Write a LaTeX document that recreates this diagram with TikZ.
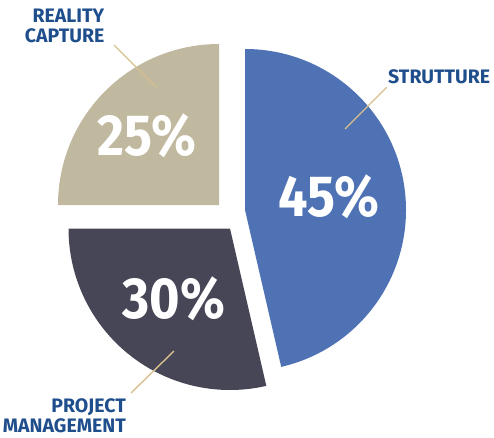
\documentclass[tikz,border=0pt]{standalone}
\usepackage{fontspec}
\setmainfont{Fira Sans}
\newfontfamily\pctfont[FakeStretch=0.9]{Fira Sans}
\definecolor{sliceblue}{HTML}{4F72B5}
\definecolor{slicebeige}{HTML}{C0B99F}
\definecolor{slicedark}{HTML}{474656}
\definecolor{lblblue}{HTML}{1F4E8C}
\definecolor{leadertan}{HTML}{D6C18E}
\begin{document}
\begin{tikzpicture}[x=1pt,y=1pt,
  slice/.style={draw=none},
  pct/.style={text=white,font=\pctfont\bfseries\fontsize{58}{58}\selectfont,inner sep=0pt,anchor=base},
  lbl/.style={text=lblblue,font=\bfseries\fontsize{19.5}{20}\selectfont,inner sep=0pt},
  leader/.style={draw=leadertan,line width=1.4pt}]
\useasboundingbox (0,0) rectangle (494,437);
% slices
\coordinate (cb) at (219,232);
\coordinate (cs) at (245,227);
\coordinate (cd) at (230,208.5);
\fill[slicebeige,slice] (cb) -- ++(90:161) arc[start angle=90,end angle=180,radius=161] -- cycle;
\fill[sliceblue,slice] (cs) -- ++(90:161) arc[start angle=90,end angle=-77,radius=161] -- cycle;
\fill[slicedark,slice] (cd) -- ++(180:161.5) arc[start angle=180,end angle=283,radius=161.5] -- cycle;
% percentages
\node[pct] (p25) at (146.5,282) {25\%};
\node[pct] (p45) at (328.5,220.3) {45\%};
\node[pct] (p30) at (174,119) {30\%};
% labels
\node[lbl,align=right,anchor=north east] (lrc) at (104.5,428.5) {REALITY\\CAPTURE};
\node[lbl,anchor=north west] (lst) at (388,367.7) {STRUTTURE};
\node[lbl,align=right,anchor=north east] (lpm) at (126,38.5) {PROJECT\\MANAGEMENT};
% leader lines
\coordinate (rc1) at (114,392);
\coordinate (rc2) at (156,350);
\coordinate (st1) at (386.7,349.7);
\coordinate (st2) at (345,308);
\coordinate (pm1) at (131,44);
\coordinate (pm2) at (174,86);
\draw[leader] (rc1) -- (rc2);
\draw[leader] (st1) -- (st2);
\draw[leader] (pm1) -- (pm2);
\end{tikzpicture}
\end{document}
